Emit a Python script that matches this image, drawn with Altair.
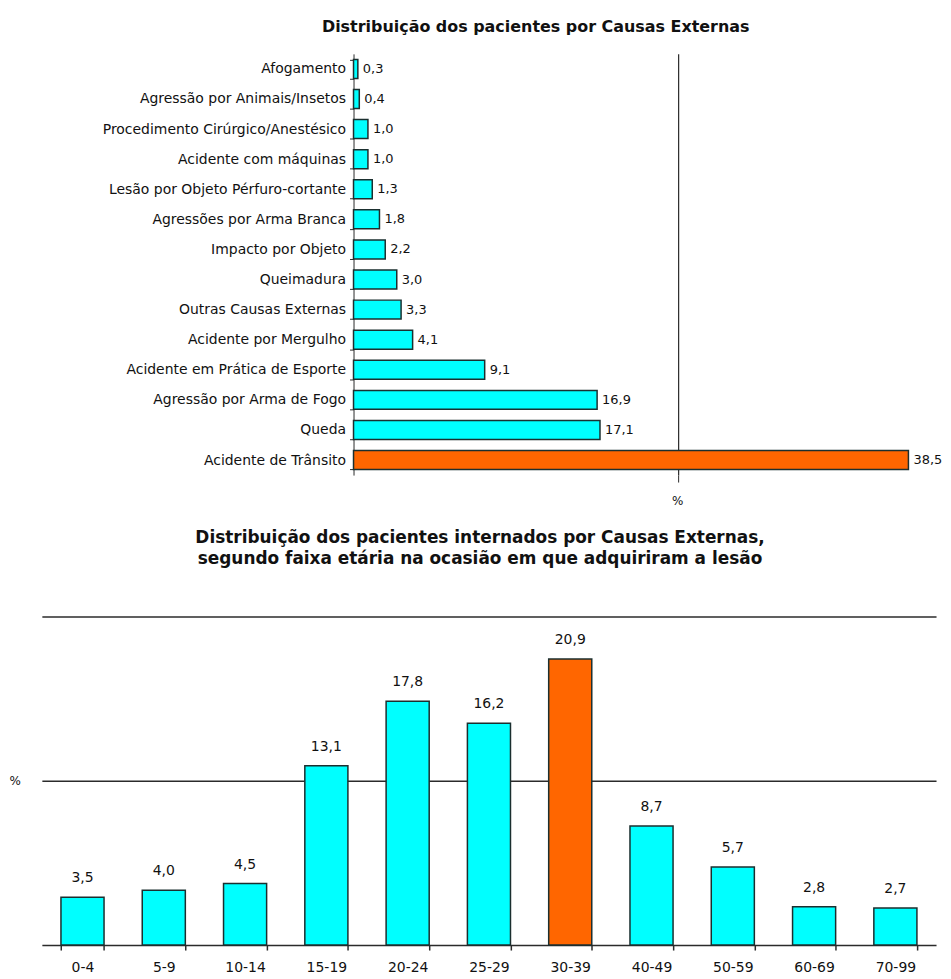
import altair as alt
import pandas as pd

# ---- data ----
causes = [
    "Afogamento",
    "Agressão por Animais/Insetos",
    "Procedimento Cirúrgico/Anestésico",
    "Acidente com máquinas",
    "Lesão por Objeto Pérfuro-cortante",
    "Agressões por Arma Branca",
    "Impacto por Objeto",
    "Queimadura",
    "Outras Causas Externas",
    "Acidente por Mergulho",
    "Acidente em Prática de Esporte",
    "Agressão por Arma de Fogo",
    "Queda",
    "Acidente de Trânsito",
]
cause_values = [0.3, 0.4, 1.0, 1.0, 1.3, 1.8, 2.2, 3.0, 3.3, 4.1, 9.1, 16.9, 17.1, 38.5]
cause_highlight = ["n"] * 13 + ["s"]

ages = ["0-4", "5-9", "10-14", "15-19", "20-24", "25-29", "30-39",
        "40-49", "50-59", "60-69", "70-99"]
age_values = [3.5, 4.0, 4.5, 13.1, 17.8, 16.2, 20.9, 8.7, 5.7, 2.8, 2.7]
age_highlight = ["n"] * 6 + ["s"] + ["n"] * 4


def br(v):
    return f"{v:.1f}".replace(".", ",")


top_df = pd.DataFrame({
    "causa": causes,
    "pct": cause_values,
    "cor": cause_highlight,
    "rotulo": [br(v) for v in cause_values],
})
bot_df = pd.DataFrame({
    "faixa": ages,
    "pct": age_values,
    "cor": age_highlight,
    "rotulo": [br(v) for v in age_values],
})

FONT = "DejaVu Sans"
DARK = "#2b2b2b"
color_scale = alt.Scale(domain=["n", "s"], range=["#00FFFF", "#FF6600"])

# ---- top chart: horizontal bars ----
AX = 313  # offset of the category axis inside the top panel
y_top = alt.Y(
    "causa:N", sort=causes,
    scale=alt.Scale(paddingInner=0.37, paddingOuter=0.185),
    axis=alt.Axis(title=None, tickBand="extent", tickSize=4, labelPadding=4,
                  labelFontSize=14, labelFont=FONT, labelColor="#111",
                  labelLimit=400, domainColor=DARK, tickColor=DARK,
                  offset=-AX, minExtent=0, maxExtent=0, grid=False),
)
x_top = alt.X(
    "pct:Q", scale=alt.Scale(domain=[0, 40], range=[AX, AX + 579]),
    axis=alt.Axis(values=[22.5], labels=False, domain=False, grid=True,
                  gridColor=DARK, gridWidth=1.2, gridOpacity=1,
                  tickSize=7, tickColor=DARK,
                  title="%", titleX=638, titleFontSize=12,
                  titleFontWeight="normal", titlePadding=13, titleFont=FONT,
                  titleColor="#111"),
)
top_bars = alt.Chart(top_df).mark_bar(stroke="#1b2f2f", strokeWidth=1.5).encode(
    y=y_top, x=x_top,
    color=alt.Color("cor:N", scale=color_scale, legend=None),
)
top_text = alt.Chart(top_df).mark_text(
    align="left", baseline="middle", dx=5, fontSize=13, font=FONT, color="#111"
).encode(y=alt.Y("causa:N", sort=causes), x="pct:Q", text="rotulo:N")

top = (top_bars + top_text).properties(
    width=AX + 579, height=423,
    title=alt.TitleParams(
        "Distribuição dos pacientes por Causas Externas",
        font=FONT, fontSize=16, fontWeight="bold", color="#111",
        frame="group", anchor="middle", dx=50, offset=12,
    ),
)

# ---- bottom chart: vertical bars ----
x_bot = alt.X(
    "faixa:N", sort=ages,
    scale=alt.Scale(paddingInner=0.47, paddingOuter=0.235),
    axis=alt.Axis(title=None, labelAngle=0, tickBand="extent", tickSize=5,
                  labelPadding=11, labelFontSize=14, labelFont=FONT,
                  labelColor="#111", domainColor=DARK, domainWidth=1.5,
                  tickColor=DARK, tickWidth=1.5),
)
y_bot = alt.Y(
    "pct:Q", scale=alt.Scale(domain=[0, 24]),
    axis=alt.Axis(values=[12, 24], labels=False, ticks=False, domain=False,
                  grid=True, gridColor=DARK, gridWidth=1.5, gridOpacity=1,
                  title="%", titleAngle=0, titleX=-33, titleY=165,
                  titleAlign="left", titleBaseline="middle", titleFontSize=12,
                  titleFontWeight="normal", titleFont=FONT, titleColor="#111"),
)
bot_bars = alt.Chart(bot_df).mark_bar(stroke="#1b2f2f", strokeWidth=1.5).encode(
    x=x_bot, y=y_bot,
    color=alt.Color("cor:N", scale=color_scale, legend=None),
)
bot_text = alt.Chart(bot_df).mark_text(
    baseline="bottom", dy=-12, fontSize=14, font=FONT, color="#111"
).encode(x=alt.X("faixa:N", sort=ages), y="pct:Q", text="rotulo:N")

bottom = (bot_bars + bot_text).properties(
    width=898, height=330,
    title=alt.TitleParams(
        ["Distribuição dos pacientes internados por Causas Externas,",
         "segundo faixa etária na ocasião em que adquiriram a lesão"],
        font=FONT, fontSize=17, fontWeight="bold", color="#111",
        frame="group", anchor="middle", dx=-9, offset=49, lineHeight=21,
    ),
)

chart = alt.vconcat(top, bottom, spacing=22).properties(
    padding={"left": 1, "top": 9, "right": 0, "bottom": 0}
).configure_view(stroke=None)

chart.save("out.html", embed_options={"renderer": "svg", "actions": False})
